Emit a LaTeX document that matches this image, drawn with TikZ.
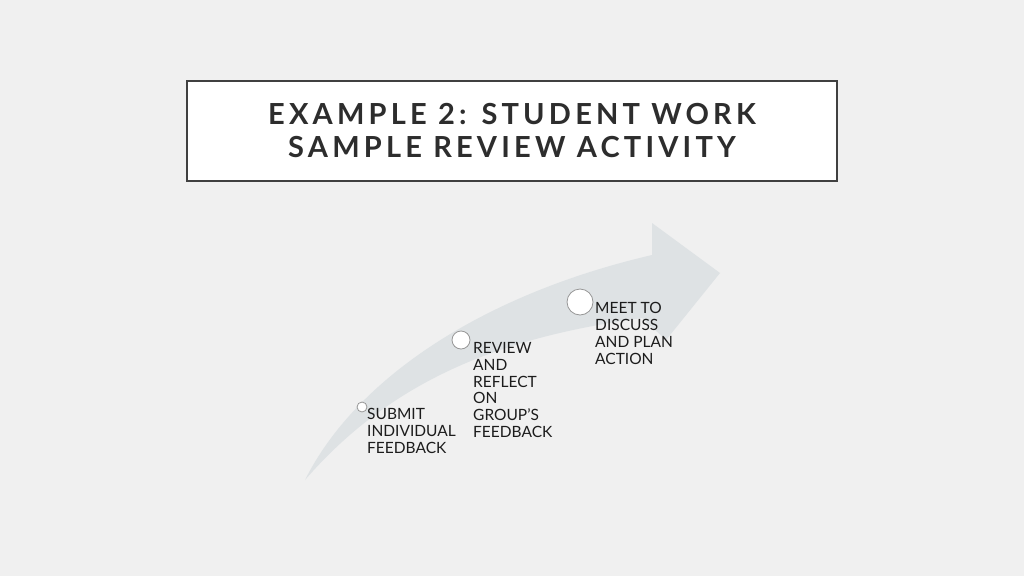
\documentclass[tikz,border=0pt]{standalone}
\usepackage{fontspec}
\setmainfont{Lato}
\newfontfamily\titlefont[LetterSpace=14.5]{Lato}
\usepackage{xcolor}
\usetikzlibrary{positioning}
\definecolor{pagebg}{RGB}{240,240,240}
\definecolor{arrowgray}{RGB}{222,226,228}
\definecolor{framegray}{RGB}{64,64,64}
\definecolor{dotgray}{RGB}{150,150,150}
\definecolor{inkgray}{RGB}{28,28,28}

\begin{document}
\begin{tikzpicture}[x=1pt,y=-1pt,
    titlebox/.style = {draw=framegray, line width=2.2pt, fill=white},
    dot/.style      = {circle, draw=dotgray, line width=0.8pt,
      fill=white, inner sep=0pt},
    steptext/.style = {anchor=north west, align=left, inner sep=0pt,
      text=inkgray, font=\fontsize{15.5}{16.7}\selectfont}
  ]
  \useasboundingbox (0,0) rectangle (1024,576);
  \fill[pagebg] (0,0) rectangle (1024,576);

  % title
  \draw[titlebox] (187,81) rectangle (837,181);
  \node[align=center, text=framegray!70!black,
    font=\titlefont\bfseries\fontsize{29}{33}\selectfont] (title)
    at (512,131) {EXAMPLE 2: STUDENT WORK\\SAMPLE REVIEW ACTIVITY};

  % rising arrow
  \fill[arrowgray] (305,480) .. controls (355,380) and (480,295) .. (652,255)
    -- (652,223) -- (720,273) -- (666,340) -- (642,318)
    .. controls (520,335) and (400,370) .. (305,480) -- cycle;

  % steps
  \node[dot, minimum size=10pt] (dot1) at (362,407) {};
  \node[dot, minimum size=18pt] (dot2) at (461,340) {};
  \node[dot, minimum size=26pt] (dot3) at (580,302) {};

  \node[steptext] (submit) at (367,408.5) {SUBMIT\\INDIVIDUAL\\FEEDBACK};
  \node[steptext] (review) at (473,342.5) {REVIEW\\AND\\REFLECT\\ON\\GROUP'S\\FEEDBACK};
  \node[steptext] (meet)   at (595,302.5) {MEET TO\\DISCUSS\\AND PLAN\\ACTION};
\end{tikzpicture}
\end{document}
